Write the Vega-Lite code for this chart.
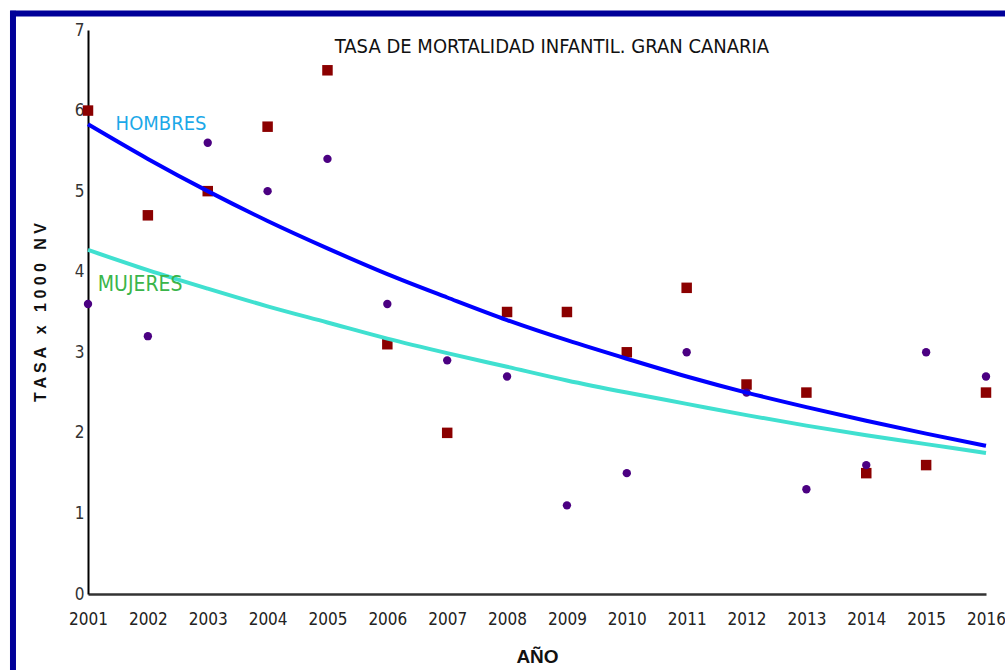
{
  "$schema": "https://vega.github.io/schema/vega-lite/v6.json",
  "width": 898,
  "height": 564,
  "autosize": "none",
  "padding": {"left": 88, "top": 30, "right": 19, "bottom": 76},
  "background": "white",
  "config": {
    "view": {"stroke": null},
    "axis": {"labelFont": "DejaVu Sans Condensed, Liberation Sans Narrow, Roboto, sans-serif", "titleFont": "Liberation Sans, Arial, sans-serif", "grid": false, "ticks": false, "tickSize": 0}
  },
  "title": {
    "text": "TASA DE MORTALIDAD INFANTIL. GRAN CANARIA",
    "anchor": "middle",
    "frame": "group",
    "offset": -49,
    "dx": 15,
    "font": "DejaVu Sans Condensed, Liberation Sans Narrow, Roboto, sans-serif",
    "fontSize": 20,
    "fontWeight": "normal",
    "color": "#111111"
  },
  "datasets": {
    "puntos": [
      {"anio": 2001, "sexo": "Hombres", "tasa": 6.0},
      {"anio": 2002, "sexo": "Hombres", "tasa": 4.7},
      {"anio": 2003, "sexo": "Hombres", "tasa": 5.0},
      {"anio": 2004, "sexo": "Hombres", "tasa": 5.8},
      {"anio": 2005, "sexo": "Hombres", "tasa": 6.5},
      {"anio": 2006, "sexo": "Hombres", "tasa": 3.1},
      {"anio": 2007, "sexo": "Hombres", "tasa": 2.0},
      {"anio": 2008, "sexo": "Hombres", "tasa": 3.5},
      {"anio": 2009, "sexo": "Hombres", "tasa": 3.5},
      {"anio": 2010, "sexo": "Hombres", "tasa": 3.0},
      {"anio": 2011, "sexo": "Hombres", "tasa": 3.8},
      {"anio": 2012, "sexo": "Hombres", "tasa": 2.6},
      {"anio": 2013, "sexo": "Hombres", "tasa": 2.5},
      {"anio": 2014, "sexo": "Hombres", "tasa": 1.5},
      {"anio": 2015, "sexo": "Hombres", "tasa": 1.6},
      {"anio": 2016, "sexo": "Hombres", "tasa": 2.5},
      {"anio": 2001, "sexo": "Mujeres", "tasa": 3.6},
      {"anio": 2002, "sexo": "Mujeres", "tasa": 3.2},
      {"anio": 2003, "sexo": "Mujeres", "tasa": 5.6},
      {"anio": 2004, "sexo": "Mujeres", "tasa": 5.0},
      {"anio": 2005, "sexo": "Mujeres", "tasa": 5.4},
      {"anio": 2006, "sexo": "Mujeres", "tasa": 3.6},
      {"anio": 2007, "sexo": "Mujeres", "tasa": 2.9},
      {"anio": 2008, "sexo": "Mujeres", "tasa": 2.7},
      {"anio": 2009, "sexo": "Mujeres", "tasa": 1.1},
      {"anio": 2010, "sexo": "Mujeres", "tasa": 1.5},
      {"anio": 2011, "sexo": "Mujeres", "tasa": 3.0},
      {"anio": 2012, "sexo": "Mujeres", "tasa": 2.5},
      {"anio": 2013, "sexo": "Mujeres", "tasa": 1.3},
      {"anio": 2014, "sexo": "Mujeres", "tasa": 1.6},
      {"anio": 2015, "sexo": "Mujeres", "tasa": 3.0},
      {"anio": 2016, "sexo": "Mujeres", "tasa": 2.7}
    ],
    "tendencia": [
      {"anio": 2001, "sexo": "Hombres", "tasa": 5.83},
      {"anio": 2002, "sexo": "Hombres", "tasa": 5.40},
      {"anio": 2003, "sexo": "Hombres", "tasa": 5.00},
      {"anio": 2004, "sexo": "Hombres", "tasa": 4.63},
      {"anio": 2005, "sexo": "Hombres", "tasa": 4.29},
      {"anio": 2006, "sexo": "Hombres", "tasa": 3.97},
      {"anio": 2007, "sexo": "Hombres", "tasa": 3.68},
      {"anio": 2008, "sexo": "Hombres", "tasa": 3.40},
      {"anio": 2009, "sexo": "Hombres", "tasa": 3.15},
      {"anio": 2010, "sexo": "Hombres", "tasa": 2.92},
      {"anio": 2011, "sexo": "Hombres", "tasa": 2.70},
      {"anio": 2012, "sexo": "Hombres", "tasa": 2.50},
      {"anio": 2013, "sexo": "Hombres", "tasa": 2.32},
      {"anio": 2014, "sexo": "Hombres", "tasa": 2.15},
      {"anio": 2015, "sexo": "Hombres", "tasa": 1.99},
      {"anio": 2016, "sexo": "Hombres", "tasa": 1.84},
      {"anio": 2001, "sexo": "Mujeres", "tasa": 4.27},
      {"anio": 2002, "sexo": "Mujeres", "tasa": 4.02},
      {"anio": 2003, "sexo": "Mujeres", "tasa": 3.79},
      {"anio": 2004, "sexo": "Mujeres", "tasa": 3.57},
      {"anio": 2005, "sexo": "Mujeres", "tasa": 3.37},
      {"anio": 2006, "sexo": "Mujeres", "tasa": 3.17},
      {"anio": 2007, "sexo": "Mujeres", "tasa": 2.99},
      {"anio": 2008, "sexo": "Mujeres", "tasa": 2.82},
      {"anio": 2009, "sexo": "Mujeres", "tasa": 2.65},
      {"anio": 2010, "sexo": "Mujeres", "tasa": 2.50},
      {"anio": 2011, "sexo": "Mujeres", "tasa": 2.36},
      {"anio": 2012, "sexo": "Mujeres", "tasa": 2.22},
      {"anio": 2013, "sexo": "Mujeres", "tasa": 2.09},
      {"anio": 2014, "sexo": "Mujeres", "tasa": 1.97},
      {"anio": 2015, "sexo": "Mujeres", "tasa": 1.86},
      {"anio": 2016, "sexo": "Mujeres", "tasa": 1.75}
    ]
  },
  "layer": [
    {
      "data": {"name": "puntos"},
      "mark": {"type": "point", "filled": true, "opacity": 1},
      "encoding": {
        "x": {
          "field": "anio", "type": "quantitative",
          "scale": {"domain": [2001, 2016], "nice": false, "zero": false},
          "axis": {
            "values": [2001, 2002, 2003, 2004, 2005, 2006, 2007, 2008, 2009, 2010, 2011, 2012, 2013, 2014, 2015, 2016],
            "format": "d",
            "title": "AÑO",
            "titleFontSize": 19,
            "titleFontWeight": "bold",
            "titleColor": "#111111",
            "titlePadding": 20,
            "labelFontSize": 17,
            "labelColor": "#222222",
            "labelPadding": 17,
            "labelFlush": false,
            "labelOverlap": false,
            "domainColor": "#333333",
            "domainWidth": 2.5
          }
        },
        "y": {
          "field": "tasa", "type": "quantitative",
          "scale": {"domain": [0, 7], "nice": false, "zero": true},
          "axis": {
            "values": [0, 1, 2, 3, 4, 5, 6, 7],
            "format": "d",
            "title": "T A S A \u00a0 x \u00a0 1 0 0 0 \u00a0 N V",
            "titleFontSize": 16,
            "titleFontWeight": "bold",
            "titleColor": "#111111",
            "titlePadding": 26,
            "labelFontSize": 17,
            "labelColor": "#333333",
            "labelPadding": 4,
            "labelFlush": false,
            "labelOverlap": false,
            "domainColor": "#000000",
            "domainWidth": 2
          }
        },
        "shape": {
          "field": "sexo", "type": "nominal",
          "scale": {"domain": ["Hombres", "Mujeres"], "range": ["square", "circle"]},
          "legend": null
        },
        "size": {
          "field": "sexo", "type": "nominal",
          "scale": {"domain": ["Hombres", "Mujeres"], "range": [110, 70]},
          "legend": null
        },
        "color": {
          "field": "sexo", "type": "nominal",
          "scale": {"domain": ["Hombres", "Mujeres"], "range": ["#8B0000", "#4B0082"]},
          "legend": null
        }
      }
    },
    {
      "data": {"name": "tendencia"},
      "mark": {"type": "line", "strokeWidth": 4, "interpolate": "monotone"},
      "encoding": {
        "x": {"field": "anio", "type": "quantitative"},
        "y": {"field": "tasa", "type": "quantitative"},
        "detail": {"field": "sexo", "type": "nominal"},
        "stroke": {
          "field": "sexo", "type": "nominal",
          "scale": {"domain": ["Hombres", "Mujeres"], "range": ["#0000FF", "#40E0D0"]},
          "legend": null
        }
      }
    },
    {
      "data": {"values": [{}]},
      "mark": {"type": "text", "text": "HOMBRES", "font": "DejaVu Sans Condensed, Liberation Sans Narrow, Roboto, sans-serif", "fontSize": 20, "color": "#1CA8E8", "align": "center", "baseline": "middle"},
      "encoding": {
        "x": {"datum": 2002.22, "type": "quantitative"},
        "y": {"datum": 5.83, "type": "quantitative"}
      }
    },
    {
      "data": {"values": [{}]},
      "mark": {"type": "text", "text": "MUJERES", "font": "DejaVu Sans Condensed, Liberation Sans Narrow, Roboto, sans-serif", "fontSize": 21, "color": "#3AB54A", "align": "center", "baseline": "middle"},
      "encoding": {
        "x": {"datum": 2001.87, "type": "quantitative"},
        "y": {"datum": 3.835, "type": "quantitative"}
      }
    },
    {
      "data": {"values": [{}]},
      "mark": {"type": "rule", "color": "#000099", "strokeWidth": 6, "clip": false},
      "encoding": {
        "x": {"datum": 1999.70, "type": "quantitative"},
        "x2": {"datum": 2016.5},
        "y": {"datum": 7.205, "type": "quantitative"}
      }
    },
    {
      "data": {"values": [{}]},
      "mark": {"type": "rule", "color": "#000099", "strokeWidth": 6, "clip": false},
      "encoding": {
        "x": {"datum": 1999.747, "type": "quantitative"},
        "y": {"datum": 7.24, "type": "quantitative"},
        "y2": {"datum": -1.0}
      }
    }
  ]
}
